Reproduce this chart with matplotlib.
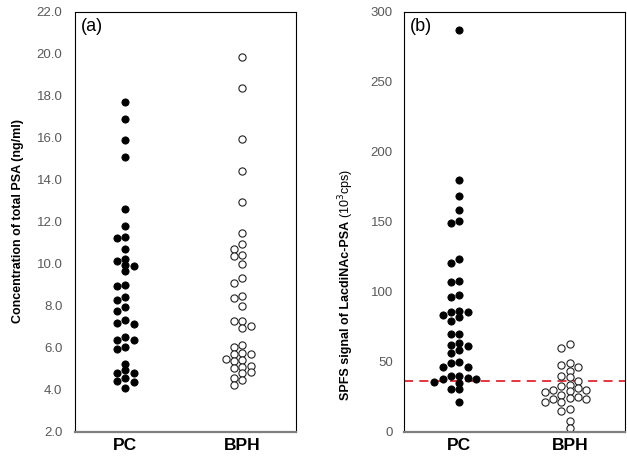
import matplotlib
matplotlib.use("Agg")
import matplotlib.pyplot as plt

plt.rcParams['font.family'] = ['Liberation Sans', 'DejaVu Sans']

# panel (a): total PSA (ng/ml)
psa_pc = [17.7, 16.9, 15.9, 15.1, 12.6, 11.8, 11.3, 11.25, 10.7, 10.26, 10.16,
          9.97, 9.92, 9.65, 9.02, 8.94, 8.43, 8.27, 7.95, 7.74, 7.31, 7.19,
          7.16, 6.52, 6.39, 6.36, 6.07, 5.96, 5.25, 4.96, 4.83, 4.80, 4.56,
          4.45, 4.40, 4.09]
psa_bph = [19.84, 18.36, 15.97, 14.42, 12.96, 11.48, 10.97, 10.72, 10.45, 10.40,
           10.0, 9.33, 9.10, 8.49, 8.38, 8.01, 7.30, 7.27, 7.03, 6.95, 6.15,
           6.07, 5.75, 5.72, 5.70, 5.48, 5.42, 5.40, 5.15, 5.10, 5.05, 4.85,
           4.80, 4.55, 4.50, 4.25]

# panel (b): SPFS signal of LacdiNAc-PSA (10^3 cps)
spfs_pc = [287, 179.9, 168.4, 158.9, 150.6, 149.4, 123.8, 120.7, 108.1, 106.9,
           98.1, 96.4, 86.1, 85.4, 85.4, 83.8, 81.8, 79.5, 70.2, 70.2, 63.9,
           62.3, 61.6, 58.7, 56.3, 50.3, 49.6, 46.7, 46.3, 40.1, 40.1, 38.9,
           37.7, 37.7, 36.0, 35.3, 30.8, 30.5, 21.2]
spfs_bph = [63.0, 59.9, 49.2, 48.0, 46.3, 43.9, 40.1, 39.6, 36.7, 33.6, 32.9,
            31.3, 30.1, 30.1, 29.3, 28.8, 26.5, 25.3, 24.1, 23.4, 23.4, 21.7,
            21.7, 16.2, 15.0, 8.1, 2.6]
cutoff = 36.7

groups = ["PC", "BPH"]


def swarm(vals, center, xstep, ypx, thr=6.0):
    placed = []
    xs = []
    for v in vals:
        for k in [0, -1, 1, -2, 2, -3, 3]:
            if all(not (kk == k and abs(v - pv) * ypx < thr) for kk, pv in placed):
                break
        placed.append((k, v))
        xs.append(center + k * xstep)
    return xs


def style(ax, ylim, yticks, fmt, xlim, ypad):
    ax.set_xlim(*xlim)
    ax.set_ylim(*ylim)
    ax.set_yticks(yticks)
    ax.set_yticklabels([fmt % t for t in yticks], color='#595959', fontsize=9.5)
    ax.set_xticks([1, 2])
    ax.set_xticklabels(groups, fontsize=12.5, fontweight='bold')
    ax.tick_params(length=0, pad=4)
    ax.tick_params(axis='y', pad=ypad)
    for s in ['left', 'top', 'right']:
        ax.spines[s].set_linewidth(0.8)
        ax.spines[s].set_color('black')
    ax.spines['bottom'].set_color('#7f7f7f')
    ax.spines['bottom'].set_linewidth(1.6)


fig = plt.figure(figsize=(6.27, 4.62), dpi=100)
ax1 = fig.add_axes([75 / 627, 30 / 462, 221 / 627, 420 / 462])
ax2 = fig.add_axes([404 / 627, 30 / 462, 221 / 627, 420 / 462])

# (a)
xa = (0.57, 2.46)
ypx_a = 420 / 20.0
step_a = 8.3 / (221 / (xa[1] - xa[0]))
ax1.plot(swarm(psa_pc, 1, step_a, ypx_a), psa_pc, 'o', ms=5.2,
         color='black', mec='black', mew=0.6, ls='none')
ax1.plot(swarm(psa_bph, 2, step_a, ypx_a), psa_bph, 'o', ms=5.2,
         mfc='white', mec='#222222', mew=0.8, ls='none')
style(ax1, (2, 22), [2 + 2 * i for i in range(11)], '%.1f', xa, 9)
ax1.text(0.025, 0.985, "(a)", transform=ax1.transAxes, fontsize=13, va='top')

# (b)
xb = (0.5, 2.5)
ypx_b = 420 / 300.0
step_b = 8.3 / (221 / (xb[1] - xb[0]))
ax2.axhline(cutoff, color='#e5242f', lw=1.3, ls=(0, (5, 3.5)), zorder=1)
ax2.plot(swarm(spfs_pc, 1, step_b, ypx_b), spfs_pc, 'o', ms=5.2,
         color='black', mec='black', mew=0.6, ls='none', zorder=2)
ax2.plot(swarm(spfs_bph, 2, step_b, ypx_b), spfs_bph, 'o', ms=5.2,
         mfc='white', mec='#222222', mew=0.8, ls='none', zorder=2)
style(ax2, (0, 300), [0, 50, 100, 150, 200, 250, 300], '%d', xb, 8)
ax2.text(0.025, 0.985, "(b)", transform=ax2.transAxes, fontsize=13, va='top')

# y labels
fig.text(18 / 627, (462 - 221) / 462, "Concentration of total PSA (ng/ml)",
         rotation=90, ha='center', va='center', fontsize=9, fontweight='bold')

t1 = fig.text(346 / 627, 62 / 462, "SPFS signal of LacdiNAc-PSA ",
              rotation=90, ha='center', va='bottom', fontsize=9, fontweight='bold')
fig.canvas.draw()
bb = t1.get_window_extent(fig.canvas.get_renderer())
fig.text(346 / 627, bb.y1 / fig.bbox.height, "(10$^3$cps)",
         rotation=90, ha='center', va='bottom', fontsize=9)

fig.savefig("out.png", dpi=100)
